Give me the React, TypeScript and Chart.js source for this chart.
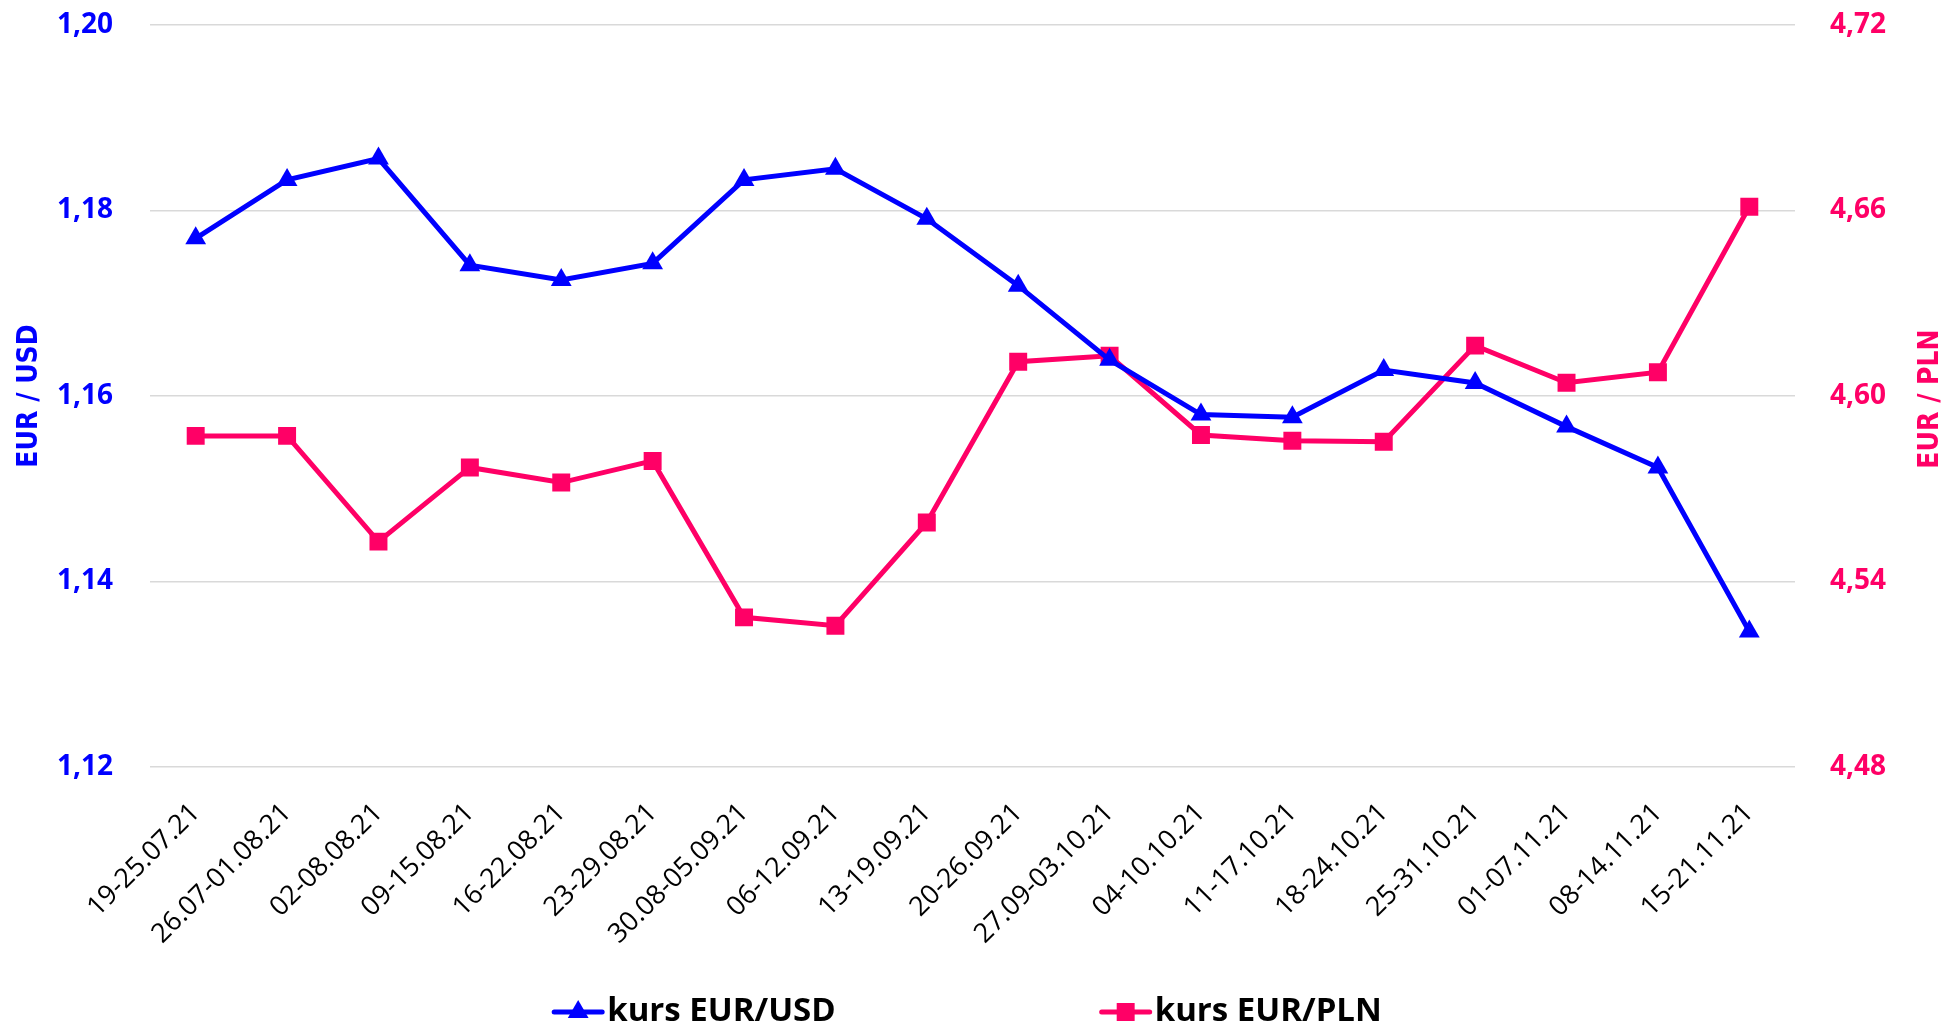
import React, { useEffect, useRef } from 'react';
import { Chart, registerables } from 'chart.js';

Chart.register(...registerables);

const categories = [
  '19-25.07.21', '26.07-01.08.21', '02-08.08.21', '09-15.08.21', '16-22.08.21', '23-29.08.21',
  '30.08-05.09.21', '06-12.09.21', '13-19.09.21', '20-26.09.21', '27.09-03.10.21', '04-10.10.21',
  '11-17.10.21', '18-24.10.21', '25-31.10.21', '01-07.11.21', '08-14.11.21', '15-21.11.21',
];
const eurUsd = [
  1.1770, 1.1833, 1.1856, 1.1741, 1.1725, 1.1743, 1.1833, 1.1845, 1.1791,
  1.1719, 1.1639, 1.1580, 1.1577, 1.1628, 1.1614, 1.1567, 1.1523, 1.1346,
];
const eurPln = [
  4.5871, 4.5871, 4.5529, 4.5769, 4.5720, 4.5790, 4.5284, 4.5257, 4.5591,
  4.6111, 4.6130, 4.5874, 4.5855, 4.5852, 4.6163, 4.6043, 4.6077, 4.6612,
];
const usdTicks = [1.12, 1.14, 1.16, 1.18, 1.2];
const plnTicks = [4.48, 4.54, 4.6, 4.66, 4.72];

const BLUE = '#0000FF';
const PINK = '#FF0066';
const FONT = '"Open Sans"';
const TITLE_FONT = '"Liberation Sans Narrow", "DejaVu Sans Condensed", "Open Sans", sans-serif';

const fmt = (v: number) => v.toFixed(2).replace('.', ',');

function drawMarker(ctx: CanvasRenderingContext2D, style: string, x: number, y: number, r: number, color: string) {
  ctx.save();
  ctx.fillStyle = color;
  ctx.beginPath();
  if (style === 'triangle') {
    const w = r * Math.sqrt(3) / 2;
    ctx.moveTo(x, y - r);
    ctx.lineTo(x + w, y + r / 2);
    ctx.lineTo(x - w, y + r / 2);
    ctx.closePath();
  } else {
    const s = r * Math.SQRT1_2;
    ctx.rect(x - s, y - s, 2 * s, 2 * s);
  }
  ctx.fill();
  ctx.restore();
}

const legendPlugin = {
  id: 'bottomLegend',
  afterDraw(chart: any) {
    const ctx = chart.ctx as CanvasRenderingContext2D;
    const y = chart.height - 18;
    const lineLen = 52;
    const textGap = 3;
    const itemGap = 264;
    ctx.save();
    ctx.font = `bold 33px ${FONT}`;
    const items = chart.data.datasets.map((ds: any) => ({
      ds,
      w: lineLen + textGap + ctx.measureText(ds.label).width,
    }));
    const total = items.reduce((a: number, i: any) => a + i.w, 0) + itemGap * (items.length - 1);
    let x = (chart.width - total) / 2 - 8;
    for (const { ds, w } of items) {
      ctx.strokeStyle = ds.borderColor;
      ctx.lineWidth = 5;
      ctx.lineCap = 'round';
      ctx.beginPath();
      ctx.moveTo(x + 2, y);
      ctx.lineTo(x + lineLen - 2, y);
      ctx.stroke();
      drawMarker(ctx, ds.pointStyle, x + lineLen / 2, y, ds.pointRadius, ds.borderColor);
      ctx.fillStyle = '#000';
      ctx.textBaseline = 'middle';
      ctx.textAlign = 'left';
      ctx.fillText(ds.label, x + lineLen + textGap, y);
      x += w + itemGap;
    }
    ctx.restore();
  },
};

const rightTitlePlugin = {
  id: 'rightTitle',
  afterDraw(chart: any) {
    const s = chart.scales.yPln;
    const ctx = chart.ctx as CanvasRenderingContext2D;
    ctx.save();
    ctx.font = `bold 28px ${TITLE_FONT}`;
    ctx.fillStyle = PINK;
    ctx.textAlign = 'center';
    ctx.textBaseline = 'middle';
    ctx.translate(s.right - 19, (s.top + s.bottom) / 2 + 3);
    ctx.rotate(-Math.PI / 2);
    ctx.fillText('EUR / PLN', 0, 0);
    ctx.restore();
  },
};

export default function App() {
  const ref = useRef<HTMLCanvasElement | null>(null);

  useEffect(() => {
    if (!ref.current) return;
    const chart = new Chart(ref.current, {
      type: 'line',
      data: {
        labels: categories,
        datasets: [
          {
            label: 'kurs EUR/USD',
            data: eurUsd,
            yAxisID: 'yUsd',
            borderColor: BLUE,
            backgroundColor: BLUE,
            borderWidth: 5,
            pointStyle: 'triangle',
            pointRadius: 12,
            pointHoverRadius: 12,
            pointBorderWidth: 0,
            tension: 0,
          },
          {
            label: 'kurs EUR/PLN',
            data: eurPln,
            yAxisID: 'yPln',
            borderColor: PINK,
            backgroundColor: PINK,
            borderWidth: 5,
            pointStyle: 'rect',
            pointRadius: 12.7,
            pointHoverRadius: 12.7,
            pointBorderWidth: 0,
            tension: 0,
          },
        ],
      },
      options: {
        animation: false,
        responsive: false,
        devicePixelRatio: 1,
        layout: { padding: { top: 25, left: 0, right: 0, bottom: 0 } },
        plugins: {
          legend: { display: false },
          tooltip: { enabled: false },
        },
        scales: {
          x: {
            offset: true,
            grid: { display: false, drawTicks: false },
            border: { display: false },
            ticks: {
              autoSkip: false,
              maxRotation: 45,
              minRotation: 45,
              padding: 30,
              color: '#000',
              font: { family: FONT, size: 27 },
            },
            afterFit: (s: any) => { s.height = 1030 - 767; },
          },
          yUsd: {
            type: 'linear',
            position: 'left',
            min: usdTicks[0],
            max: usdTicks[usdTicks.length - 1],
            afterBuildTicks: (s: any) => { s.ticks = usdTicks.map((v) => ({ value: v })); },
            grid: { color: '#D9D9D9', lineWidth: 1.5, drawTicks: false },
            border: { display: false },
            ticks: {
              padding: 37,
              color: BLUE,
              font: { family: FONT, size: 28, weight: 'bold' },
              callback: (v: any) => fmt(Number(v)),
            },
            title: {
              display: true,
              text: 'EUR / USD',
              color: BLUE,
              font: { family: TITLE_FONT, size: 28, weight: 'bold' },
              padding: { top: 13, bottom: 0 },
            },
            afterFit: (s: any) => { s.width = 150; s.paddingTop = 0; s.paddingBottom = 0; },
          },
          yPln: {
            type: 'linear',
            position: 'right',
            min: plnTicks[0],
            max: plnTicks[plnTicks.length - 1],
            afterBuildTicks: (s: any) => { s.ticks = plnTicks.map((v) => ({ value: v })); },
            grid: { display: false, drawTicks: false },
            border: { display: false },
            ticks: {
              padding: 35,
              color: PINK,
              font: { family: FONT, size: 28, weight: 'bold' },
              callback: (v: any) => fmt(Number(v)),
            },
            afterFit: (s: any) => { s.width = 155; s.paddingTop = 0; s.paddingBottom = 0; },
          },
        },
      },
      plugins: [legendPlugin, rightTitlePlugin],
    } as any);
    return () => chart.destroy();
  }, []);

  return (
    <div style={{ position: 'absolute', left: 0, top: 0, width: 1950, height: 1030, background: '#fff' }}>
      <canvas ref={ref} width={1950} height={1030} style={{ width: 1950, height: 1030, display: 'block' }} />
    </div>
  );
}
